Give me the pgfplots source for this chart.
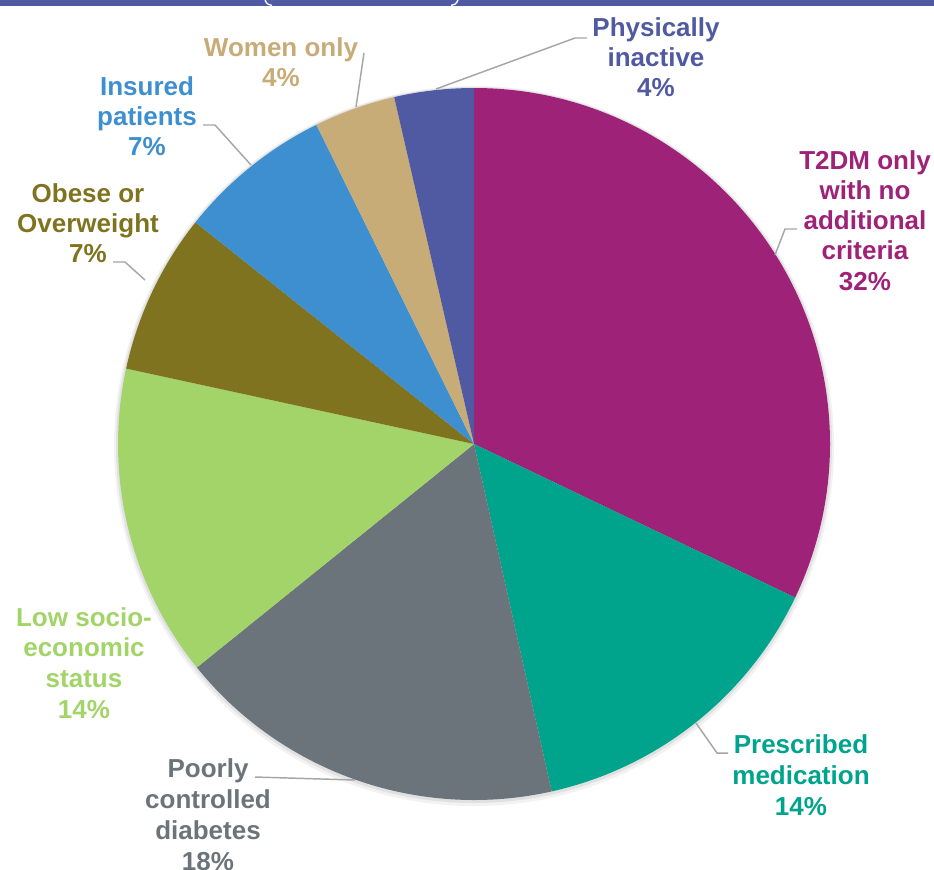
\documentclass[border=0pt]{standalone}
\usepackage{pgfplots}
\pgfplotsset{compat=1.18}
\usepackage{fontspec}
\setmainfont{Liberation Sans}
\definecolor{cT}{HTML}{9E2378}
\definecolor{cP}{HTML}{00A48D}
\definecolor{cG}{HTML}{6C747B}
\definecolor{cL}{HTML}{A2D469}
\definecolor{cO}{HTML}{80731F}
\definecolor{cB}{HTML}{3E8FD0}
\definecolor{cW}{HTML}{C8AC77}
\definecolor{cI}{HTML}{505AA2}
\definecolor{lead}{HTML}{A6A6A6}
% slice: start (cumulative %), value (%), colour
\newcommand{\slice}[3]{%
  \fill[#3] (axis cs:474,444) -- (axis cs:{474+356*cos(90-3.6*(#1))},{444-356*sin(90-3.6*(#1))})
    arc[start angle={90-3.6*(#1)}, end angle={90-3.6*(#1+#2)}, radius=267pt] -- cycle;}
\newcommand{\lbl}[4]{\node[anchor=base, text=#3, inner sep=0pt,
  font=\bfseries\fontsize{19.5}{23}\selectfont] at (axis cs:#1,#2) {#4};}
\begin{document}
\begin{tikzpicture}
\clip (0,0) rectangle (700.5pt,651.75pt);
\begin{axis}[at={(0,0)}, anchor=south west,
  width=700.5pt, height=651.75pt, scale only axis,
  xmin=0, xmax=934, ymin=0, ymax=869, y dir=reverse,
  hide axis, clip=false]
% header band
\fill[cI] (axis cs:0,0) rectangle (axis cs:934,5.5);
\draw[white, line width=1pt] (axis cs:265,0) .. controls (axis cs:267,4) .. (axis cs:272,5.5);
\draw[white, line width=1pt] (axis cs:458,0) .. controls (axis cs:456,4) .. (axis cs:451,5.5);
% soft shadow
\fill[black, opacity=0.05] (axis cs:474,446) circle[radius=270pt];
\fill[black, opacity=0.07] (axis cs:474,445) circle[radius=268.5pt];
% slices (values in %)
\slice{0}{32.1}{cT}
\slice{32.1}{14.4}{cP}
\slice{46.5}{17.7}{cG}
\slice{64.2}{14.2}{cL}
\slice{78.4}{7.3}{cO}
\slice{85.7}{7.0}{cB}
\slice{92.7}{3.7}{cW}
\slice{96.4}{3.6}{cI}
% leader lines
\draw[lead, line width=1.1pt] (axis cs:587,38) -- (axis cs:575,38) -- (axis cs:436,89);
\draw[lead, line width=1.1pt] (axis cs:364,53) -- (axis cs:356,107);
\draw[lead, line width=1.1pt] (axis cs:203,125) -- (axis cs:215,125) -- (axis cs:251,165);
\draw[lead, line width=1.1pt] (axis cs:113,262) -- (axis cs:125,262) -- (axis cs:145,280);
\draw[lead, line width=1.1pt] (axis cs:797,229) -- (axis cs:785,229) -- (axis cs:775,255);
\draw[lead, line width=1.1pt] (axis cs:728,753) -- (axis cs:717,753) -- (axis cs:696,723);
\draw[lead, line width=1.1pt] (axis cs:255,777) -- (axis cs:355,780);
% labels
\lbl{656}{36}{cI}{Physically}
\lbl{656}{66}{cI}{inactive}
\lbl{656}{96}{cI}{4\%}
\lbl{865}{169}{cT}{T2DM only}
\lbl{865}{199}{cT}{with no}
\lbl{865}{229}{cT}{additional}
\lbl{865}{259}{cT}{criteria}
\lbl{865}{290}{cT}{32\%}
\lbl{801}{753}{cP}{Prescribed}
\lbl{801}{784}{cP}{medication}
\lbl{801}{815}{cP}{14\%}
\lbl{208}{777}{cG}{Poorly}
\lbl{208}{808}{cG}{controlled}
\lbl{208}{839}{cG}{diabetes}
\lbl{208}{870}{cG}{18\%}
\lbl{84}{626}{cL}{Low socio-}
\lbl{84}{656}{cL}{economic}
\lbl{84}{687}{cL}{status}
\lbl{84}{718}{cL}{14\%}
\lbl{88}{202}{cO}{Obese or}
\lbl{88}{232}{cO}{Overweight}
\lbl{88}{262}{cO}{7\%}
\lbl{147}{95}{cB}{Insured}
\lbl{147}{125}{cB}{patients}
\lbl{147}{155}{cB}{7\%}
\lbl{281}{56}{cW}{Women only}
\lbl{281}{86}{cW}{4\%}
\end{axis}
\end{tikzpicture}
\end{document}
